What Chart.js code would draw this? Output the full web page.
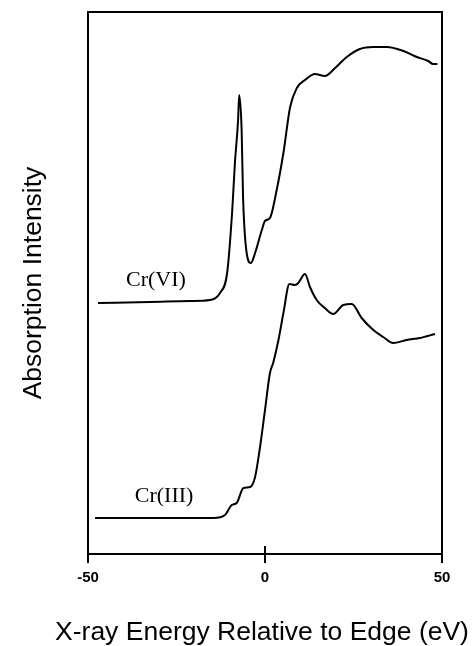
<!DOCTYPE html>
<html>
<head>
<meta charset="utf-8">
<script src="https://cdn.jsdelivr.net/npm/chart.js@4"></script>
<style>
  html, body { margin: 0; padding: 0; background: #fff; }
</style>
</head>
<body>
<canvas id="xanesChart" width="475" height="646"></canvas>
<script>
// energies (eV relative to edge) and intensities (arbitrary units)
const crVIEnergy = [-47.2, -32.5, -21.2, -15.5, -12.7, -10.7, -9.3, -8.5, -7.6, -7.3, -6.6, -6.2, -5.5, -4.0, -2.8, -0.9, 0.0, 1.4, 3.3, 5.2, 7.1, 9.0, 11.3, 14.1, 16.9, 19.8, 23.1, 26.8, 30.6, 34.4, 39.1, 42.9, 46.1, 47.5, 48.7];
const crVIIntensity = [251, 252, 253, 254, 261, 281, 341, 391, 434, 459, 424, 357, 311, 291, 301, 324, 333, 336, 364, 401, 447, 466, 474, 480, 478, 486, 497, 505, 507, 507, 503, 497, 493, 490, 490];

const crIIIEnergy = [-48.0, -32.5, -14.6, -11.3, -9.4, -8.0, -6.1, -4.2, -2.8, -1.4, 0.0, 1.4, 2.3, 3.8, 5.2, 6.9, 8.5, 9.4, 11.3, 12.7, 14.6, 16.9, 19.3, 22.1, 24.5, 27.3, 30.6, 33.4, 36.2, 40.0, 43.8, 48.0];
const crIIIIntensity = [36, 36, 36, 39, 49, 51, 66, 67, 77, 107, 144, 181, 191, 214, 241, 270, 269, 271, 280, 267, 254, 246, 240, 249, 250, 236, 224, 217, 211, 214, 216, 220];

const xTicks = [-50, 0, 50];
const xTitle = 'X-ray Energy Relative to Edge (eV)';

// curve labels, placed in data units
const curveLabels = ['Cr(VI)', 'Cr(III)'];
const curveLabelX = [-30.8, -28.5];
const curveLabelY = [274, 58];

const toPoints = (xs, ys) => xs.map((x, i) => ({ x: x, y: ys[i] }));

const framePlugin = {
    id: 'frame',
    afterDraw(chart) {
        const { ctx, chartArea, scales } = chart;
        ctx.save();
        ctx.strokeStyle = '#000';
        ctx.lineWidth = 2;
        ctx.strokeRect(chartArea.left, chartArea.top, chartArea.right - chartArea.left, chartArea.bottom - chartArea.top);
        // inward stub of the middle tick
        const x0 = Math.round(scales.x.getPixelForValue(0));
        ctx.beginPath();
        ctx.moveTo(x0, chartArea.bottom);
        ctx.lineTo(x0, chartArea.bottom - 8);
        ctx.stroke();
        // curve labels
        ctx.fillStyle = '#000';
        ctx.font = '22px "Liberation Serif", "Times New Roman", serif';
        ctx.textAlign = 'center';
        ctx.textBaseline = 'middle';
        curveLabels.forEach((label, i) => {
            ctx.fillText(label, scales.x.getPixelForValue(curveLabelX[i]), scales.y.getPixelForValue(curveLabelY[i]));
        });
        // x title is wider than the plot, so draw it here without a maxWidth squeeze
        ctx.font = '26.5px "Liberation Sans", Arial, sans-serif';
        ctx.textBaseline = 'alphabetic';
        ctx.fillText(xTitle, (chartArea.left + chartArea.right) / 2 - 3, 640);
        ctx.restore();
    }
};

const ctx = document.getElementById('xanesChart').getContext('2d');

new Chart(ctx, {
    type: 'line',
    data: {
        datasets: [{
            label: 'Cr(VI)',
            data: toPoints(crVIEnergy, crVIIntensity),
            borderColor: '#000',
            borderWidth: 2,
            pointRadius: 0,
            cubicInterpolationMode: 'monotone'
        }, {
            label: 'Cr(III)',
            data: toPoints(crIIIEnergy, crIIIIntensity),
            borderColor: '#000',
            borderWidth: 2,
            pointRadius: 0,
            cubicInterpolationMode: 'monotone'
        }]
    },
    options: {
        responsive: false,
        animation: false,
        layout: {
            padding: { top: 12, right: 33, bottom: 0, left: 0 }
        },
        scales: {
            x: {
                type: 'linear',
                min: -50,
                max: 50,
                afterBuildTicks: scale => {
                    scale.ticks = xTicks.map(v => ({ value: v }));
                },
                afterFit: scale => {
                    scale.height = 92;
                },
                ticks: {
                    color: '#000',
                    padding: 6,
                    maxRotation: 0,
                    font: { family: '"Liberation Sans", Arial, sans-serif', size: 15, weight: 'bold' }
                },
                grid: {
                    drawOnChartArea: false,
                    drawTicks: true,
                    tickLength: 9,
                    color: '#000',
                    lineWidth: 2
                },
                border: { display: false }
            },
            y: {
                type: 'linear',
                min: 0,
                max: 542,
                afterFit: scale => {
                    scale.width = 88;
                },
                ticks: { display: false },
                grid: { display: false },
                border: { display: false },
                title: {
                    display: true,
                    text: 'Absorption Intensity',
                    color: '#000',
                    padding: { top: 18, bottom: 0 },
                    font: { family: '"Liberation Sans", Arial, sans-serif', size: 26.5 }
                }
            }
        },
        plugins: {
            legend: { display: false },
            tooltip: { enabled: false }
        }
    },
    plugins: [framePlugin]
});
</script>
</body>
</html>
